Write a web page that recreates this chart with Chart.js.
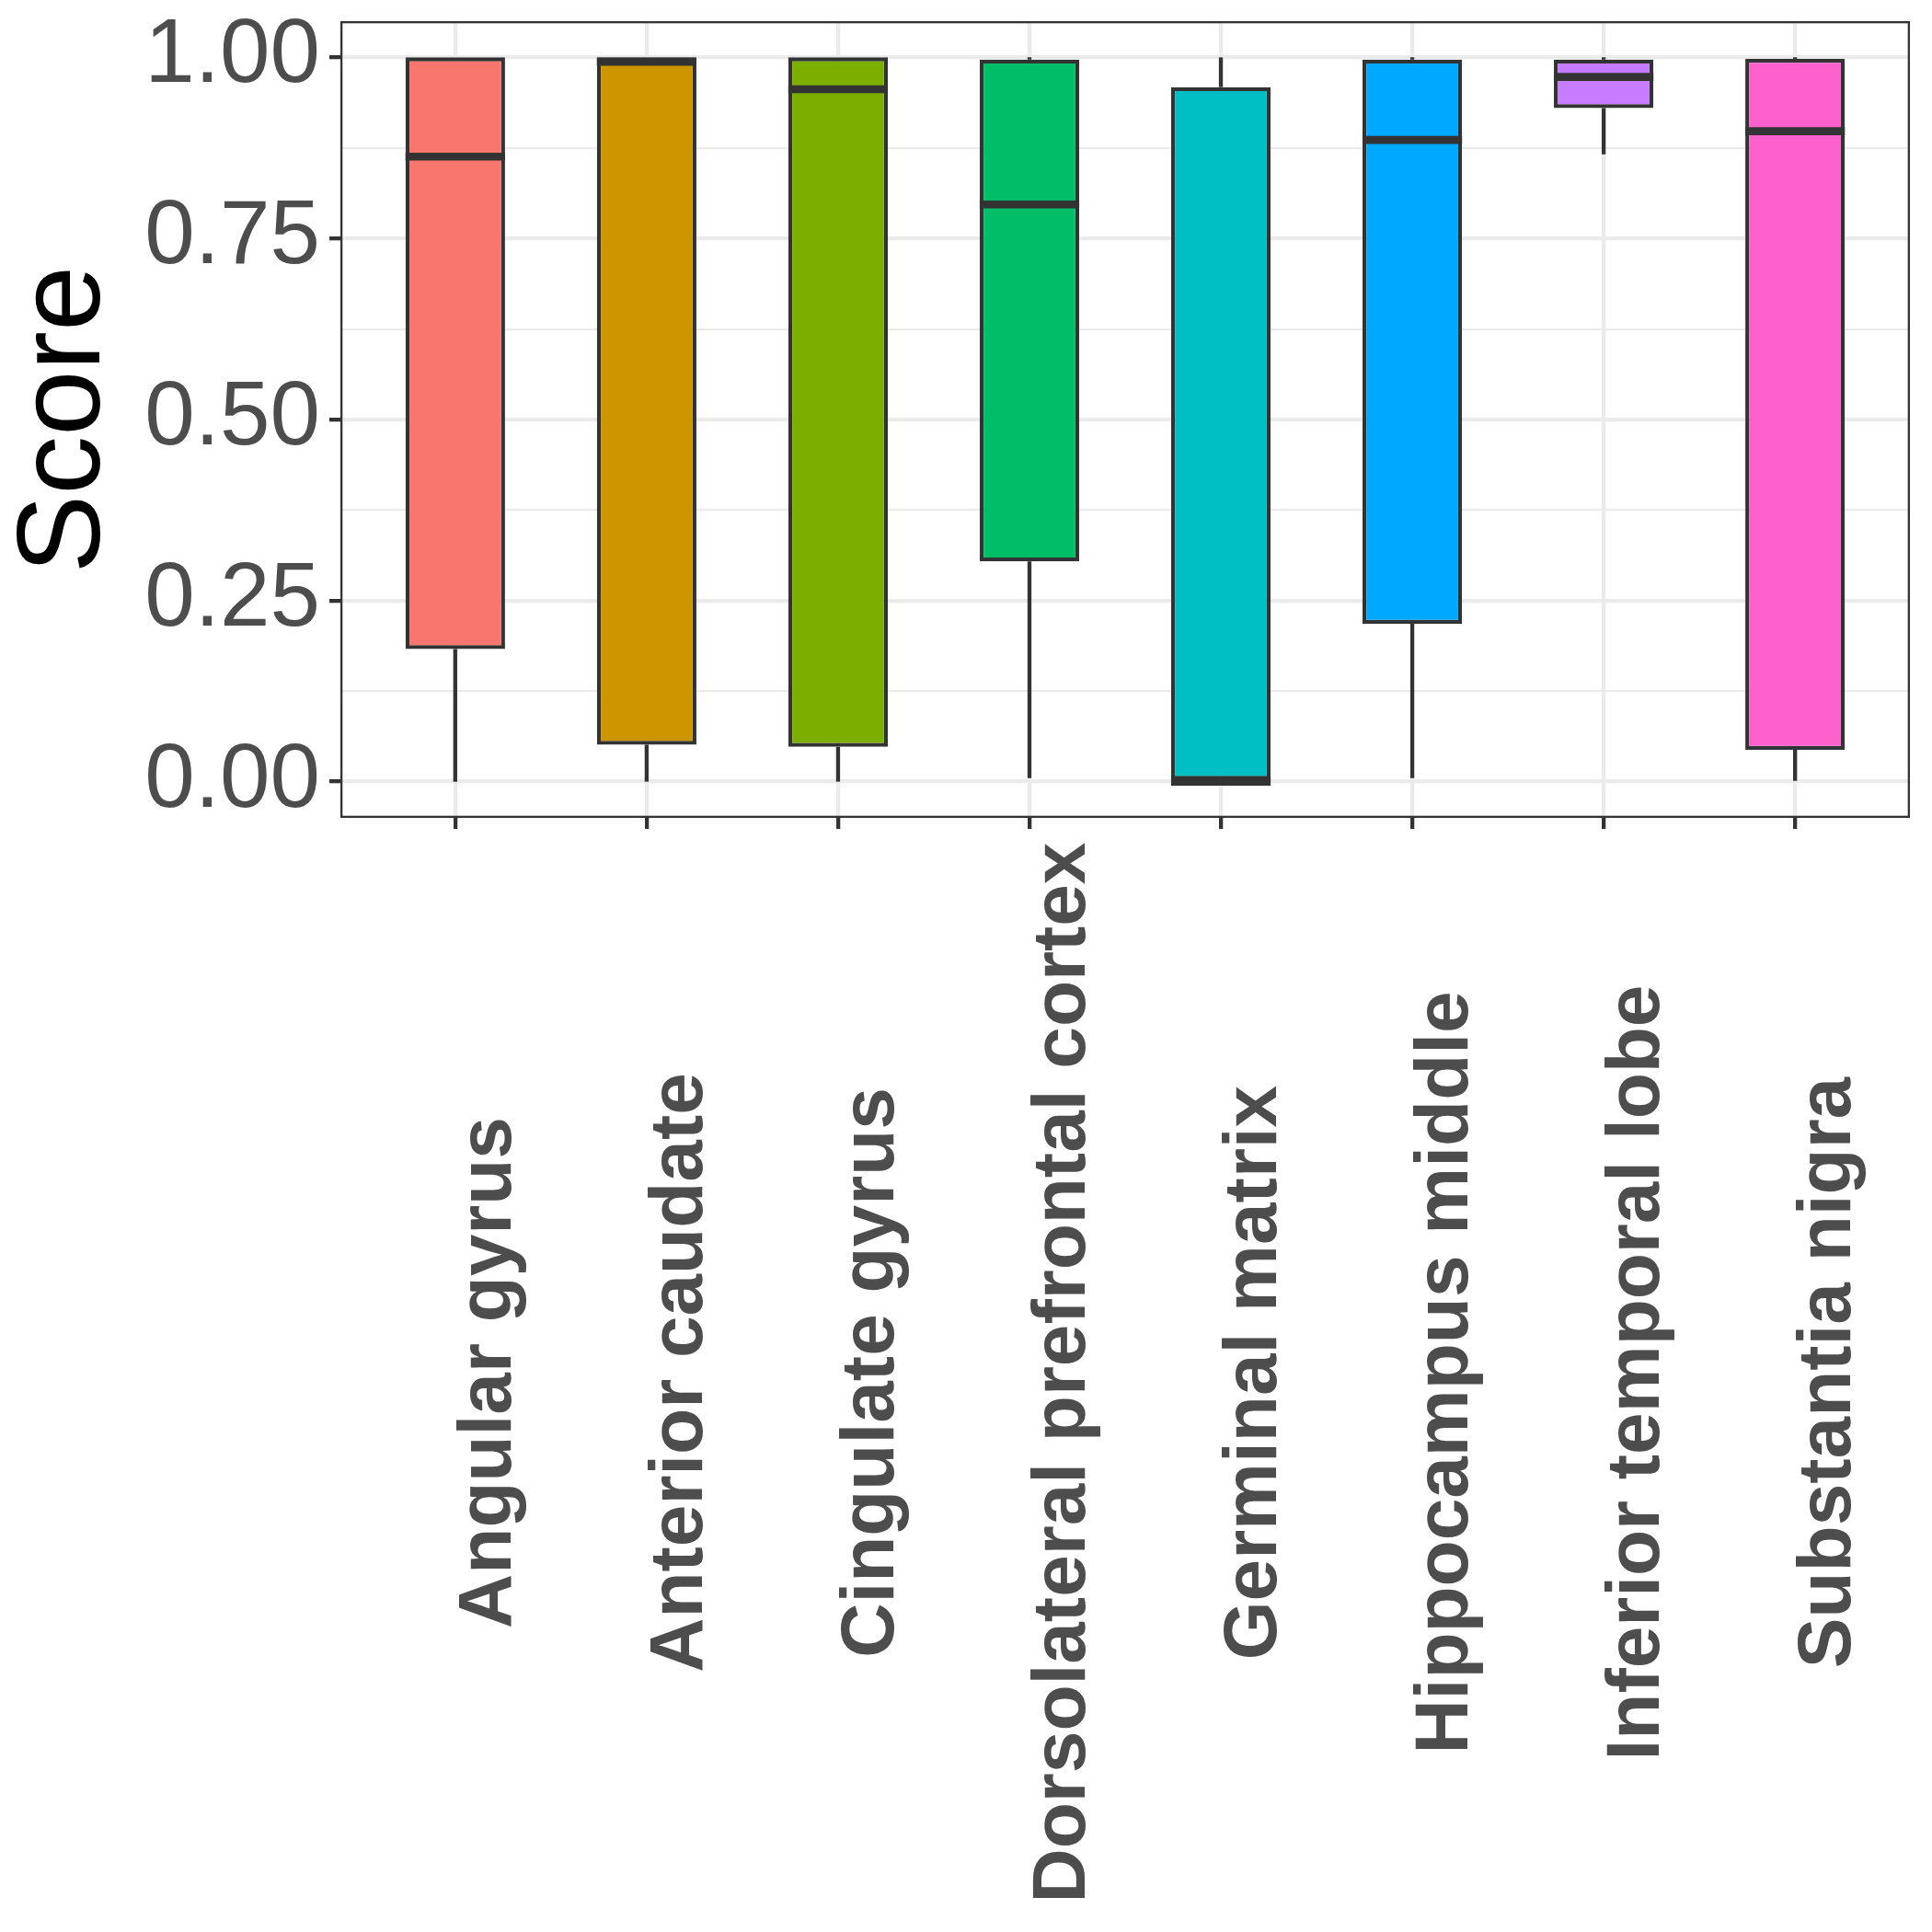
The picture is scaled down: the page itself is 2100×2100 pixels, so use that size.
<!DOCTYPE html>
<html>
<head>
<meta charset="utf-8">
<script src="https://cdn.jsdelivr.net/npm/chart.js"></script>
<style>
  html, body { margin: 0; padding: 0; background: #ffffff; }
  canvas { display: block; }
</style>
</head>
<body>
<canvas id="c" width="2100" height="2100" style="width:2100px;height:2100px"></canvas>
<script>
// ---- data ----
const categories = ["Angular gyrus", "Anterior caudate", "Cingulate gyrus",
  "Dorsolateral prefrontal cortex", "Germinal matrix", "Hippocampus middle",
  "Inferior temporal lobe", "Substantia nigra"];
const whiskerLow  = [0.000, 0.000, 0.000, 0.005, 0.000, 0.005, 0.866, 0.001];
const q1Values    = [0.183, 0.051, 0.048, 0.304, 0.000, 0.218, 0.930, 0.044];
const medians     = [0.863, 0.994, 0.956, 0.797, 0.000, 0.886, 0.973, 0.898];
const q3Values    = [1.000, 1.000, 1.000, 0.997, 0.959, 0.997, 0.997, 0.998];
const whiskerHigh = [1.000, 1.000, 1.000, 1.000, 1.000, 1.000, 1.000, 1.000];
const boxColors   = ["#F8766D", "#CD9600", "#7CAE00", "#00BE67", "#00BFC4", "#00A9FF", "#C77CFF", "#FF61CC"];
const yMajorTicks = [0, 0.25, 0.5, 0.75, 1];
const yMinorTicks = [0.125, 0.375, 0.625, 0.875];
const yTitle = "Score";

// ---- styles ----
const FONT = '"Liberation Sans", Arial, Helvetica, sans-serif';
const DARK = '#333333';
const GRID = '#EBEBEB';
const LINE_W = 4.3;

const allYTicks = [...yMajorTicks, ...yMinorTicks].sort((a, b) => a - b);
const isMajor = v => yMajorTicks.some(m => Math.abs(m - v) < 1e-9);

const boxPlugin = {
  id: 'boxParts',
  beforeDraw(chart) {
    const ctx = chart.ctx;
    ctx.save();
    ctx.fillStyle = '#ffffff';
    ctx.fillRect(0, 0, chart.width, chart.height);
    ctx.restore();
  },
  beforeDatasetsDraw(chart) {
    const ctx = chart.ctx, xs = chart.scales.x, ys = chart.scales.y;
    ctx.save();
    ctx.strokeStyle = DARK;
    ctx.lineWidth = LINE_W;
    ctx.lineCap = 'butt';
    categories.forEach((c, i) => {
      const x = xs.getPixelForValue(i);
      ctx.beginPath();
      ctx.moveTo(x, ys.getPixelForValue(whiskerHigh[i]));
      ctx.lineTo(x, ys.getPixelForValue(q3Values[i]));
      ctx.moveTo(x, ys.getPixelForValue(q1Values[i]));
      ctx.lineTo(x, ys.getPixelForValue(whiskerLow[i]));
      ctx.stroke();
    });
    ctx.restore();
  },
  afterDatasetsDraw(chart) {
    const ctx = chart.ctx, xs = chart.scales.x, ys = chart.scales.y;
    const meta = chart.getDatasetMeta(0);
    ctx.save();
    ctx.strokeStyle = DARK;
    ctx.lineWidth = LINE_W * 2;
    ctx.lineCap = 'butt';
    categories.forEach((c, i) => {
      const x = xs.getPixelForValue(i);
      const hw = meta.data[i].width / 2;
      const y = ys.getPixelForValue(medians[i]);
      ctx.beginPath();
      ctx.moveTo(x - hw, y);
      ctx.lineTo(x + hw, y);
      ctx.stroke();
    });
    // panel border
    const a = chart.chartArea;
    ctx.lineWidth = 2.3;
    ctx.strokeRect(a.left + 1.15, a.top + 1.15, a.right - a.left - 2.3, a.bottom - a.top - 2.3);
    ctx.restore();
  },
  afterDraw(chart) {
    const ctx = chart.ctx, xs = chart.scales.x;
    ctx.save();
    ctx.fillStyle = '#4D4D4D';
    ctx.font = 'bold 82px ' + FONT;
    ctx.textAlign = 'center';
    ctx.textBaseline = 'alphabetic';
    categories.forEach((c, i) => {
      const x = xs.getPixelForValue(i);
      ctx.save();
      ctx.translate(x + 60, 1492);
      ctx.rotate(-Math.PI / 2);
      ctx.fillText(c, 0, 0);
      ctx.restore();
    });
    ctx.restore();
  }
};

new Chart(document.getElementById('c'), {
  type: 'bar',
  data: {
    datasets: [{
      data: categories.map((c, i) => ({ x: i, y: [q1Values[i], q3Values[i]] })),
      backgroundColor: boxColors,
      borderColor: DARK,
      borderWidth: LINE_W,
      borderSkipped: false,
      barPercentage: 0.52,
      categoryPercentage: 1.0
    }]
  },
  options: {
    responsive: false,
    devicePixelRatio: 1,
    animation: false,
    layout: { padding: { left: 0, top: 23, right: 24, bottom: 0 } },
    plugins: { legend: { display: false }, tooltip: { enabled: false } },
    scales: {
      x: {
        type: 'linear',
        min: -0.6,
        max: 7.6,
        offset: false,
        afterBuildTicks(s) { s.ticks = categories.map((c, i) => ({ value: i })); },
        afterFit(s) { s.height = 2100 - 889; s.paddingLeft = 0; s.paddingRight = 0; },
        ticks: { display: false, autoSkip: false },
        grid: {
          color: GRID, lineWidth: LINE_W, offset: false,
          drawTicks: true, tickLength: 12, tickColor: DARK, tickWidth: LINE_W
        },
        border: { display: false }
      },
      y: {
        type: 'linear',
        min: -0.05,
        max: 1.05,
        afterBuildTicks(s) { s.ticks = allYTicks.map(v => ({ value: v })); },
        afterFit(s) { s.width = 370; s.paddingTop = 0; s.paddingBottom = 0; },
        ticks: {
          autoSkip: false,
          padding: 10,
          color: '#4D4D4D',
          font: { family: FONT, size: 98 },
          callback: v => isMajor(v) ? v.toFixed(2) : ''
        },
        grid: {
          color: GRID,
          lineWidth: c => isMajor(c.tick.value) ? LINE_W : LINE_W / 2,
          drawTicks: true,
          tickLength: 12,
          tickColor: c => isMajor(c.tick.value) ? DARK : 'rgba(0,0,0,0)',
          tickWidth: c => isMajor(c.tick.value) ? LINE_W : 0
        },
        border: { display: false },
        title: {
          display: true,
          text: yTitle,
          color: '#000000',
          font: { family: FONT, size: 128, lineHeight: 1 },
          padding: { top: 8.6, bottom: 0 }
        }
      }
    }
  },
  plugins: [boxPlugin]
});
</script>
</body>
</html>
